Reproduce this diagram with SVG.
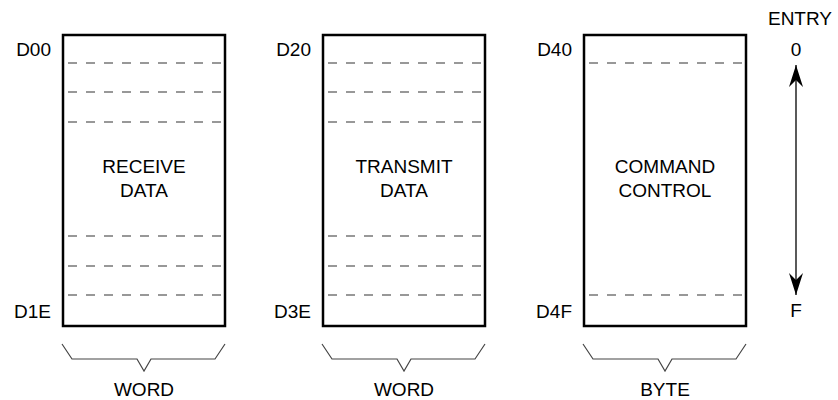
<svg xmlns="http://www.w3.org/2000/svg" width="838" height="400" viewBox="0 0 838 400">
<style>
  text { font-family: "Liberation Sans", Arial, sans-serif; font-size: 19px; fill: #000; }
  .lbl { text-anchor: end; }
  .mid { text-anchor: middle; }
  .box { fill: #fff; stroke: #000; stroke-width: 2.5; }
  .dash { stroke: #333; stroke-width: 1.2; stroke-dasharray: 9 9; stroke-dashoffset: -4; fill: none; }
  .brace { fill: none; stroke: #444; stroke-width: 1.2; }
  .conn { stroke: #000; stroke-width: 1.3; fill: none; }
</style>
<defs>
  <marker id="ah" viewBox="0 0 22 14" refX="22" refY="7" markerWidth="22" markerHeight="14" markerUnits="userSpaceOnUse" orient="auto-start-reverse">
    <path d="M0,0 L22,7 L0,14 L7,7 Z" fill="#000"/>
  </marker>
</defs>

<g id="receive">
  <rect class="box" x="63" y="35" width="162" height="291"/>
  <path class="dash" d="M64,63H224M64,92H224M64,122H224M64,236H224M64,266H224M64,295H224"/>
  <text class="lbl" x="51" y="56">D00</text>
  <text class="lbl" x="51" y="318">D1E</text>
  <text class="mid" x="144" y="173">RECEIVE</text>
  <text class="mid" x="144" y="197">DATA</text>
  <path class="brace" d="M62,344L72,359H137L144,371L151,359H215L225,344"/>
  <text class="mid" x="144" y="396">WORD</text>
</g>

<g id="transmit">
  <rect class="box" x="323" y="35" width="162" height="291"/>
  <path class="dash" d="M324,63H484M324,92H484M324,122H484M324,236H484M324,266H484M324,295H484"/>
  <text class="lbl" x="311" y="56">D20</text>
  <text class="lbl" x="311" y="318">D3E</text>
  <text class="mid" x="404" y="173">TRANSMIT</text>
  <text class="mid" x="404" y="197">DATA</text>
  <path class="brace" d="M322,344L332,359H397L404,371L411,359H475L485,344"/>
  <text class="mid" x="404" y="396">WORD</text>
</g>

<g id="command">
  <rect class="box" x="584" y="35" width="162" height="291"/>
  <path class="dash" d="M585,63H745M585,295H745"/>
  <text class="lbl" x="572" y="56">D40</text>
  <text class="lbl" x="572" y="318">D4F</text>
  <text class="mid" x="665" y="173">COMMAND</text>
  <text class="mid" x="665" y="197">CONTROL</text>
  <path class="brace" d="M583,344L593,359H658L665,371L672,359H736L746,344"/>
  <text class="mid" x="665" y="396">BYTE</text>
</g>

<g id="entry">
  <text class="mid" x="800" y="25">ENTRY</text>
  <text class="mid" x="796" y="56">0</text>
  <text class="mid" x="796" y="317">F</text>
</g>

<g id="connectors">
  <line class="conn" x1="796" y1="65" x2="796" y2="295" marker-start="url(#ah)" marker-end="url(#ah)"/>
</g>
</svg>
